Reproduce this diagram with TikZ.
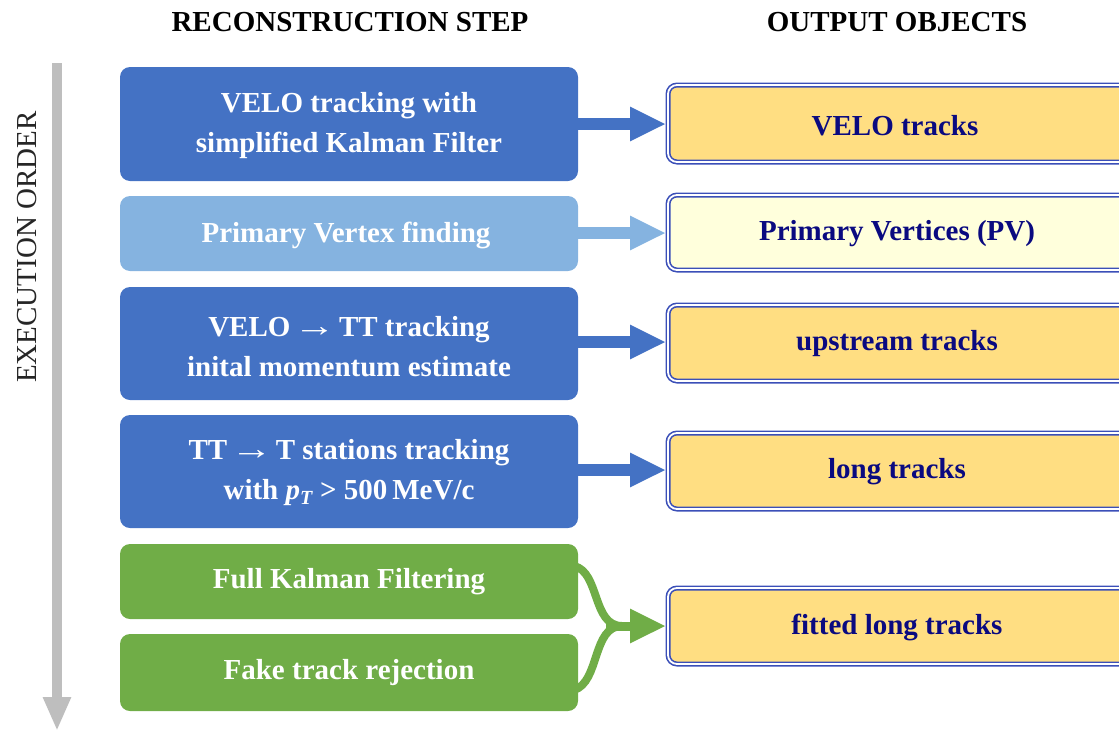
\documentclass[tikz,border=0pt]{standalone}
\usepackage{fontspec}
\usepackage{graphicx}
\setmainfont{Liberation Serif}
\usetikzlibrary{arrows.meta}
\definecolor{stepblue}{HTML}{4472C4}
\definecolor{steplight}{HTML}{85B3E0}
\definecolor{stepgreen}{HTML}{70AD47}
\definecolor{outyellow}{HTML}{FFDE82}
\definecolor{outpale}{HTML}{FFFFDC}
\definecolor{outtext}{HTML}{0A0A80}
\definecolor{outborder}{HTML}{3B4FB8}
\definecolor{ordergray}{HTML}{BEBEBE}
\newcommand{\longarr}{\kern-4pt\scalebox{1.45}[1.1]{→}\kern-4pt}
\begin{document}
\begin{tikzpicture}[x=1pt,y=-1pt,
  stepbox/.style={rounded corners=10pt, text=white, font=\bfseries\fontsize{29}{40}\selectfont, align=center},
  outbox/.style={rounded corners=9pt, draw=outborder, line width=1.6pt, double=white, double distance=1.8pt, text=outtext, font=\bfseries\fontsize{29}{34}\selectfont},
  flow/.style={line width=12pt, -{Triangle[length=36pt,width=32pt]}},
  heading/.style={font=\bfseries\fontsize{29}{34}\selectfont}]
\useasboundingbox (0,0) rectangle (1119,731);
% headings
\node[heading] (h1) at (350,22) {RECONSTRUCTION STEP};
\node[heading] (h2) at (897,22) {OUTPUT OBJECTS};
% execution order
\coordinate (eoTop) at (57,63);
\coordinate (eoBot) at (57,731);
\draw[ordergray, line width=10pt, -{Triangle[length=34pt,width=26pt]}] (eoTop) -- (eoBot);
\node[rotate=90, font=\fontsize{29}{34}\selectfont, text=black!85] (eo) at (27,247) {EXECUTION ORDER};
% steps
\path[stepbox, fill=stepblue] (120,67) rectangle (578,181);
\node[stepbox] (s1) at (349,126) {VELO tracking with\\simplified Kalman Filter};
\path[stepbox, fill=steplight] (120,196) rectangle (578,271);
\node[stepbox] (s2) at (346,235) {Primary Vertex finding};
\path[stepbox, fill=stepblue] (120,287) rectangle (578,400);
\node[stepbox] (s3) at (349,347) {VELO \longarr{} TT tracking\\inital momentum estimate};
\path[stepbox, fill=stepblue] (120,415) rectangle (578,528);
\node[stepbox] (s4) at (349,473) {TT \longarr{} T stations tracking\\with \textit{p}\raisebox{-0.35ex}{\fontsize{20}{22}\selectfont\textit{T}} > 500\,MeV/c};
\path[stepbox, fill=stepgreen] (120,544) rectangle (578,619);
\node[stepbox] (s5) at (349,582) {Full Kalman Filtering};
\path[stepbox, fill=stepgreen] (120,634) rectangle (578,711);
\node[stepbox] (s6) at (349,673) {Fake track rejection};
% outputs
\path[outbox, fill=outyellow] (668,85) rectangle (1130,162);
\node[outbox, draw=none, double=none] (o1) at (895,126) {VELO tracks};
\path[outbox, fill=outpale] (668,195) rectangle (1130,270);
\node[outbox, draw=none, double=none] (o2) at (897,234) {Primary Vertices (PV)};
\path[outbox, fill=outyellow] (668,305) rectangle (1130,381);
\node[outbox, draw=none, double=none] (o3) at (897,344) {upstream tracks};
\path[outbox, fill=outyellow] (668,433) rectangle (1130,509);
\node[outbox, draw=none, double=none] (o4) at (897,472) {long tracks};
\path[outbox, fill=outyellow] (668,588) rectangle (1130,664);
\node[outbox, draw=none, double=none] (o5) at (897,627) {fitted long tracks};
% arrows
\coordinate (a1s) at (576,124); \coordinate (a1e) at (666,124);
\coordinate (a2s) at (576,233); \coordinate (a2e) at (666,233);
\coordinate (a3s) at (576,342); \coordinate (a3e) at (666,342);
\coordinate (a4s) at (576,470); \coordinate (a4e) at (666,470);
\draw[flow, stepblue] (a1s) -- (a1e);
\draw[flow, steplight] (a2s) -- (a2e);
\draw[flow, stepblue] (a3s) -- (a3e);
\draw[flow, stepblue] (a4s) -- (a4e);
\coordinate (g1) at (574,566);
\coordinate (g2) at (574,690);
\coordinate (gm) at (622,626);
\coordinate (a5e) at (666,626);
\draw[stepgreen, line width=8pt] (g1) .. controls (600,572) and (592,626) .. (gm);
\draw[stepgreen, line width=8pt] (g2) .. controls (600,682) and (592,626) .. (gm);
\draw[flow, stepgreen, line width=9pt] (606,626) -- (a5e);
\end{tikzpicture}
\end{document}
